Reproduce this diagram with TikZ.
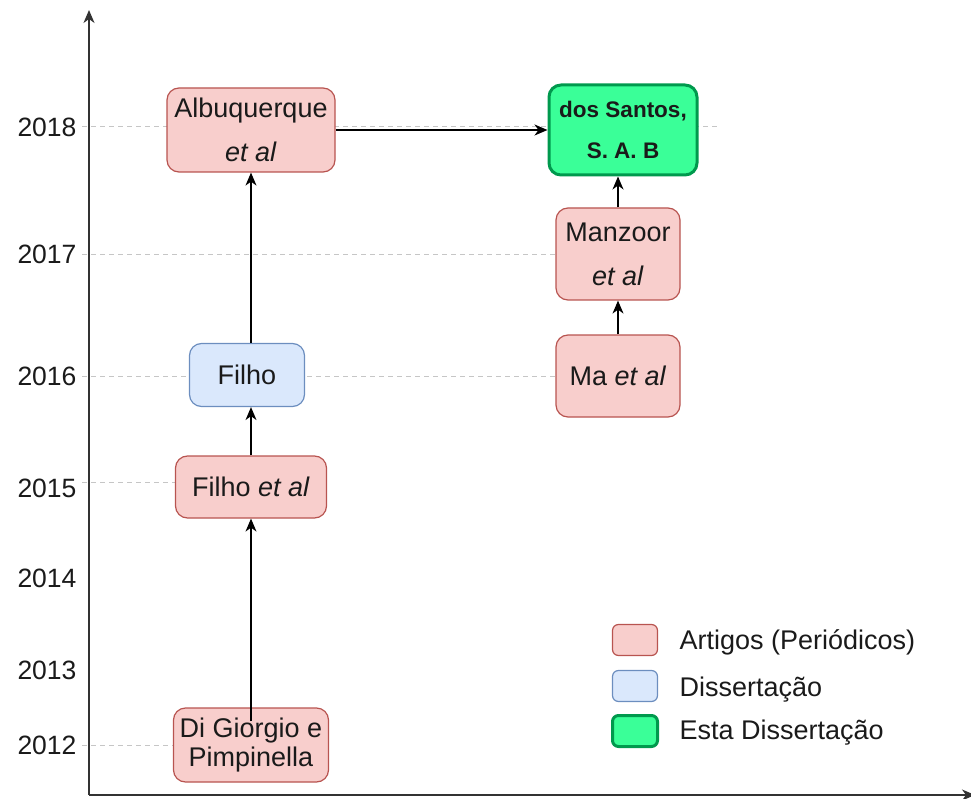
\documentclass[tikz,border=0pt]{standalone}
\usepackage{fontspec}
\setmainfont{Liberation Sans}
\usetikzlibrary{arrows.meta,calc}

\definecolor{artfill}{HTML}{F8CECC}
\definecolor{artline}{HTML}{B85450}
\definecolor{disfill}{HTML}{DAE8FC}
\definecolor{disline}{HTML}{6C8EBF}
\definecolor{estfill}{HTML}{3AFF98}
\definecolor{estline}{HTML}{00994D}
\definecolor{txt}{HTML}{1A1A1A}

\tikzset{
	box/.style={rounded corners=12pt, align=center, text=txt, inner sep=0pt,
		font=\fontsize{27}{29}\selectfont},
	artigo/.style={box, fill=artfill, draw=artline, line width=1.2pt},
	dissert/.style={box, fill=disfill, draw=disline, line width=1.2pt},
	esta/.style={box, fill=estfill, draw=estline, line width=3pt,
		font=\fontsize{22.5}{27}\selectfont\bfseries},
	swatch/.style={rounded corners=6pt, minimum width=45pt, minimum height=31pt},
	yearlbl/.style={anchor=east, text=txt, font=\fontsize{26.5}{30}\selectfont},
	legtxt/.style={anchor=west, text=txt, font=\fontsize{27}{30}\selectfont},
	guide/.style={gray!45, line width=0.9pt, dash pattern=on 5pt off 4pt},
	link/.style={-{Stealth[length=13pt,width=11pt,inset=4pt]}, line width=1.3pt}
}

\begin{document}
\begin{tikzpicture}[x=1pt, y=-1pt]
\useasboundingbox (0,0) rectangle (971,799);

% AXES
	\draw [link, gray!40!black] (89,795) -- (89,10);
	\draw [link, gray!40!black] (89,795) -- (975,795);

% YEARS
	\node [yearlbl] (y18) at (80,127) {2018};
	\node [yearlbl] (y17) at (80,254) {2017};
	\node [yearlbl] (y16) at (80,376) {2016};
	\node [yearlbl] (y15) at (80,488) {2015};
	\node [yearlbl] (y14) at (80,578) {2014};
	\node [yearlbl] (y13) at (80,670) {2013};
	\node [yearlbl] (y12) at (80,745) {2012};

	\draw [guide] (82,126) -- (718,126);
	\draw [guide] (82,254) -- (557,254);
	\draw [guide] (82,376) -- (557,376);
	\draw [guide] (82,482) -- (177,482);
	\draw [guide] (82,745) -- (173,745);

% WORKS
	\node [artigo, minimum width=168pt, minimum height=84pt] (alb) at (251,130)
		{Albuquerque\\[15pt]\textit{et al}};
	\node [esta, minimum width=148pt, minimum height=90pt] (dos) at (623,130)
		{dos Santos,\\[14pt]S. A. B};
	\node [artigo, minimum width=124pt, minimum height=92pt] (manz) at (618,254)
		{Manzoor\\[15pt]\textit{et al}};
	\node [artigo, minimum width=124pt, minimum height=82pt] (ma) at (618,376)
		{Ma \textit{et al}};
	\node [dissert, minimum width=115pt, minimum height=63pt] (filho) at (247,375)
		{Filho};
	\node [artigo, minimum width=151pt, minimum height=62pt] (fet) at (251,487)
		{Filho \textit{et al}};
	\node [artigo, minimum width=155pt, minimum height=74pt] (dig) at (251,745)
		{Di Giorgio e\\Pimpinella};

	\draw [link] ($(dig.north)+(0,14)$) -- (fet.south);
	\draw [link] (fet.north) -- (fet.north |- filho.south);
	\draw [link] (filho.north -| alb) -- (alb.south);
	\draw [link] (alb.east |- 0,130) -- (dos.west |- 0,130);
	\draw [link] (manz.north) -- (dos.south -| manz);
	\draw [link] (ma.north) -- (manz.south);

% LEGEND
	\node [swatch, fill=artfill, draw=artline, line width=1.2pt] (lart) at (635,640) {};
	\node [swatch, fill=disfill, draw=disline, line width=1.2pt] (ldis) at (635,686) {};
	\node [swatch, fill=estfill, draw=estline, line width=3pt] (lest) at (635,731) {};
	\node [legtxt] at (676,642) {Artigos (Periódicos)};
	\node [legtxt] at (676,690) {Dissertação};
	\node [legtxt] at (676,733) {Esta Dissertação};

\end{tikzpicture}
\end{document}
